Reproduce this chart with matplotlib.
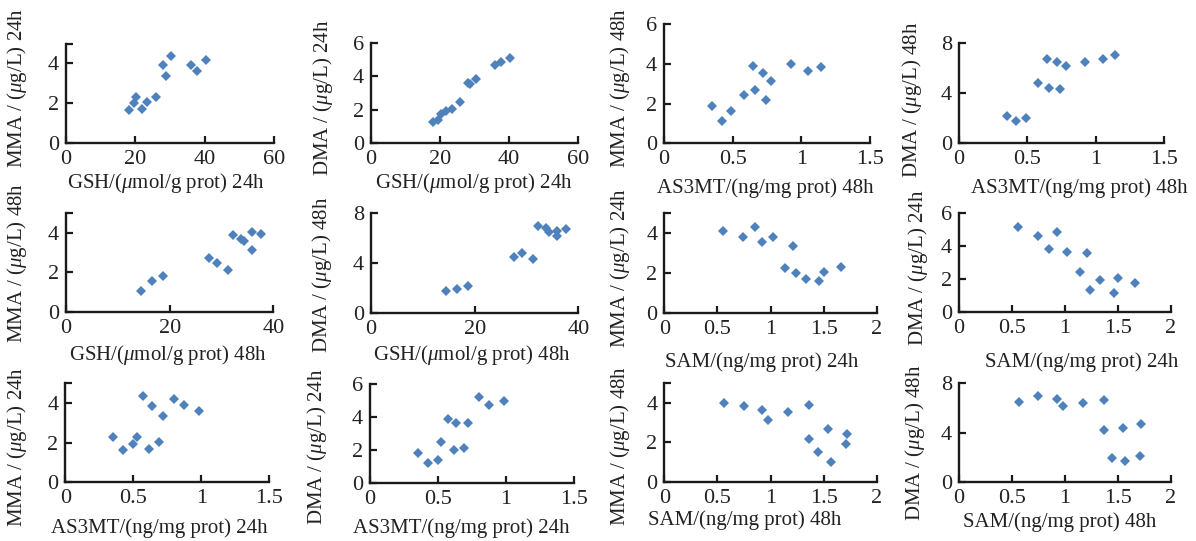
import matplotlib
matplotlib.use('Agg')
import matplotlib.pyplot as plt

plt.rcParams['font.family'] = ['Liberation Serif', 'DejaVu Serif']
plt.rcParams['mathtext.fontset'] = 'custom'
plt.rcParams['mathtext.rm'] = 'Liberation Serif'
plt.rcParams['mathtext.it'] = 'Liberation Serif:italic'

# x variables
gsh_24h = [18.1, 19.5, 20.3, 21.8, 23.5, 25.9, 28.0, 28.8, 30.4, 36.0, 37.7, 40.4]
gsh_48h = [14.5, 16.5, 18.8, 27.5, 29.1, 31.2, 32.2, 33.7, 34.4, 35.8, 35.8, 37.6]
as3mt_24h = [0.353, 0.426, 0.50, 0.525, 0.574, 0.615, 0.635, 0.689, 0.72, 0.80, 0.875, 0.985]
as3mt_48h = [0.35, 0.42, 0.49, 0.58, 0.645, 0.66, 0.72, 0.74, 0.78, 0.925, 1.05, 1.145]
sam_24h = [0.556, 0.744, 0.85, 0.92, 1.02, 1.21, 1.14, 1.24, 1.33, 1.46, 1.50, 1.66]
sam_48h = [0.565, 0.747, 0.923, 0.98, 1.168, 1.366, 1.366, 1.444, 1.545, 1.567, 1.708, 1.717]

# y values per panel
mma24_gsh = [1.63, 2.00, 2.31, 1.70, 2.06, 2.31, 3.90, 3.37, 4.36, 3.91, 3.61, 4.20]
dma24_gsh = [1.22, 1.36, 1.76, 1.90, 2.06, 2.44, 3.62, 3.56, 3.86, 4.66, 4.86, 5.12]
mma48_as3mt = [1.88, 1.12, 1.60, 2.43, 3.90, 2.67, 3.55, 2.20, 3.15, 4.00, 3.63, 3.83]
dma48_as3mt = [2.16, 1.76, 1.95, 4.75, 6.67, 4.40, 6.43, 4.27, 6.16, 6.45, 6.72, 7.01]
mma48_gsh = [1.05, 1.57, 1.81, 2.71, 2.45, 2.12, 3.88, 3.71, 3.60, 3.16, 4.05, 3.95]
dma48_gsh = [1.77, 1.93, 2.17, 4.46, 4.78, 4.30, 7.00, 6.85, 6.47, 6.20, 6.60, 6.71]
mma24_sam = [4.13, 3.83, 4.30, 3.58, 3.83, 3.33, 2.27, 1.98, 1.68, 1.61, 2.03, 2.29]
dma24_sam = [5.14, 4.63, 3.84, 4.88, 3.62, 3.56, 2.40, 1.32, 1.93, 1.16, 2.03, 1.73]
mma24_as3mt = [2.29, 1.61, 1.95, 2.27, 4.34, 1.68, 3.86, 2.02, 3.35, 4.20, 3.90, 3.60]
dma24_as3mt = [1.78, 1.22, 1.38, 2.45, 3.89, 1.99, 3.65, 2.09, 3.61, 5.19, 4.70, 4.95]
mma48_sam = [4.00, 3.83, 3.64, 3.13, 3.54, 3.90, 2.16, 1.53, 2.67, 1.02, 1.92, 2.42]
dma48_sam = [6.49, 7.00, 6.76, 6.16, 6.40, 6.65, 4.24, 1.92, 4.38, 1.70, 2.08, 4.68]

# axis labels
xl_gsh24 = r'GSH/($\mu$mol/g prot) 24h'
xl_gsh48 = r'GSH/($\mu$mol/g prot) 48h'
xl_as24 = 'AS3MT/(ng/mg prot) 24h'
xl_as48 = 'AS3MT/(ng/mg prot) 48h'
xl_sam24 = 'SAM/(ng/mg prot) 24h'
xl_sam48 = 'SAM/(ng/mg prot) 48h'
yl_mma24 = r'MMA / ($\mu$g/L) 24h'
yl_mma48 = r'MMA / ($\mu$g/L) 48h'
yl_dma24 = r'DMA / ($\mu$g/L) 24h'
yl_dma48 = r'DMA / ($\mu$g/L) 48h'

xt_60 = [0, 20, 40, 60]
xt_40 = [0, 20, 40]
xt_15 = [0, 0.5, 1, 1.5]
xt_2 = [0, 0.5, 1, 1.5, 2]
yt_5 = [0, 2, 4]
yt_6 = [0, 2, 4, 6]
yt_8 = [0, 4, 8]

W, H = 1196, 541

# (x, y, xlabel, ylabel, xticks, xmax, yticks, ymax,
#  axes box px (l, t, r, b), xlabel centre px, ylabel centre px)
panels = [
    (gsh_24h, mma24_gsh, xl_gsh24, yl_mma24, xt_60, 60, yt_5, 5,
     (66, 43.7, 274, 142.7), (166, 183), (17, 88)),
    (gsh_24h, dma24_gsh, xl_gsh24, yl_dma24, xt_60, 60, yt_6, 6,
     (371, 43.3, 578, 142.7), (474, 183), (323, 98)),
    (as3mt_48h, mma48_as3mt, xl_as48, yl_mma48, xt_15, 1.5, yt_6, 6,
     (664, 24, 870, 143.3), (765, 188), (620, 88)),
    (as3mt_48h, dma48_as3mt, xl_as48, yl_dma48, xt_15, 1.5, yt_8, 8,
     (959, 42.7, 1164, 142.7), (1079, 188), (912, 100)),
    (gsh_48h, mma48_gsh, xl_gsh48, yl_mma48, xt_40, 40, yt_5, 5,
     (66, 213.3, 273.3, 311.7), (168, 355), (17, 263)),
    (gsh_48h, dma48_gsh, xl_gsh48, yl_dma48, xt_40, 40, yt_8, 8,
     (371, 213.3, 578.3, 312.7), (472, 355), (322, 275)),
    (sam_24h, mma24_sam, xl_sam24, yl_mma24, xt_2, 2, yt_5, 5,
     (664.3, 213.3, 876.7, 312.7), (762, 362), (620, 268)),
    (sam_24h, dma24_sam, xl_sam24, yl_dma24, xt_2, 2, yt_6, 6,
     (959, 213.3, 1171, 311.7), (1082, 362), (918, 268)),
    (as3mt_24h, mma24_as3mt, xl_as24, yl_mma24, xt_15, 1.5, yt_5, 5,
     (65.3, 383.3, 269.3, 482), (159, 528), (17, 447)),
    (as3mt_24h, dma24_as3mt, xl_as24, yl_dma24, xt_15, 1.5, yt_6, 6,
     (370, 384, 573.7, 482.7), (461, 528), (317, 447)),
    (sam_48h, mma48_sam, xl_sam48, yl_mma48, xt_2, 2, yt_5, 5,
     (664.3, 383.3, 876.7, 481.7), (745, 520), (620, 446)),
    (sam_48h, dma48_sam, xl_sam48, yl_dma48, xt_2, 2, yt_8, 8,
     (959, 383.3, 1171, 481.7), (1060, 522), (915, 443)),
]

fig = plt.figure(figsize=(W / 100, H / 100), dpi=100)
fs = 15
blue = '#4f81bd'

for x, y, xl, yl, xt, xmax, yt, ymax, box, xlc, ylc in panels:
    l, t, r, b = box
    ax = fig.add_axes([l / W, 1 - b / H, (r - l) / W, (b - t) / H])
    ax.plot(x, y, linestyle='none', marker='D', markersize=5.6,
            color=blue, markeredgewidth=0, clip_on=False)
    ax.set_xlim(0, xmax)
    ax.set_ylim(0, ymax)
    ax.set_xticks(xt)
    ax.set_xticklabels(['%g' % v for v in xt])
    ax.set_yticks(yt)
    ax.set_yticklabels(['%g' % v for v in yt])
    if ymax not in yt:
        ax.set_yticks([ymax], minor=True)
    for s in ['top', 'right']:
        ax.spines[s].set_visible(False)
    for s in ['left', 'bottom']:
        ax.spines[s].set_linewidth(1.7)
        ax.spines[s].set_color('#1a1a1a')
    ax.tick_params(which='both', direction='in', length=5, width=1.6,
                   color='#1a1a1a', labelsize=16, labelcolor='#222222')
    ax.tick_params(axis='x', pad=5)
    ax.tick_params(axis='y', pad=5)
    ax.set_xlabel(xl, fontsize=fs, color='#222222')
    ax.set_ylabel(yl, fontsize=fs, color='#222222')
    ax.xaxis.label.set_verticalalignment('center')
    ax.yaxis.label.set_verticalalignment('center')
    ax.xaxis.set_label_coords(xlc[0] / W, 1 - xlc[1] / H, transform=fig.transFigure)
    ax.yaxis.set_label_coords(ylc[0] / W, 1 - ylc[1] / H, transform=fig.transFigure)

fig.savefig('out.png', dpi=100)
